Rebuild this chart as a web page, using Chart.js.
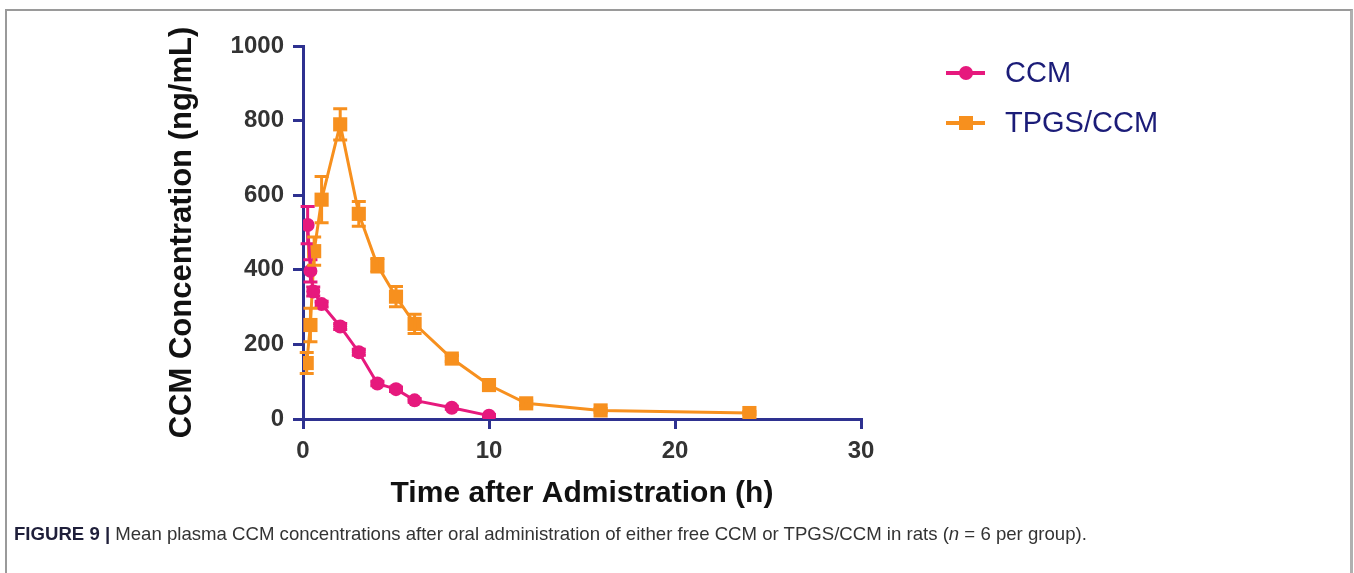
<!DOCTYPE html>
<html>
<head>
<meta charset="utf-8">
<script src="https://cdn.jsdelivr.net/npm/chart.js@4.4.0/dist/chart.umd.min.js"></script>
<style>
  body { margin: 0; background: #fff; font-family: "Liberation Sans", Arial, sans-serif; }
  #wrap { position: relative; width: 1354px; height: 573px; overflow: hidden; }
  #frame { position: absolute; left: 5px; top: 9px; width: 1343px; height: 600px;
           border-left: 2px solid #9a9a9a; border-top: 2px solid #9a9a9a; border-right: 3px solid #b0b0b0; }
  #myChart { position: absolute; left: 0; top: 0; }
  .leg { position: absolute; left: 946px; height: 30px; color: #1b1c78; font-size: 29px; }
  .leg .ln { position: absolute; left: 0; top: 13px; width: 39px; height: 4px; }
  .leg .mk { position: absolute; }
  .leg .tx { position: absolute; left: 59px; top: -2px; white-space: nowrap; }
  #caption { position: absolute; left: 14px; top: 523px; font-size: 18.6px; color: #333; white-space: nowrap; }
  #caption b { color: #1f1f3a; }
</style>
</head>
<body>
<div id="wrap">
  <div id="frame"></div>
  <canvas id="myChart" width="1354" height="573"></canvas>
  <div class="leg" style="top:58px">
    <div class="ln" style="background:#e6197d"></div>
    <div class="mk" style="left:13px;top:8px;width:14px;height:14px;border-radius:50%;background:#e6197d"></div>
    <div class="tx">CCM</div>
  </div>
  <div class="leg" style="top:108px">
    <div class="ln" style="background:#f7901e"></div>
    <div class="mk" style="left:13px;top:8px;width:14px;height:14px;background:#f7901e"></div>
    <div class="tx">TPGS/CCM</div>
  </div>
  <div id="caption"><b>FIGURE 9 |</b> Mean plasma CCM concentrations after oral administration of either free CCM or TPGS/CCM in rats (<i>n</i> = 6 per group).</div>
</div>
<script>
// time points (h), mean concentrations (ng/mL) and SD
const ccmTime = [0.25, 0.4, 0.55, 1, 2, 3, 4, 5, 6, 8, 10];
const ccmMean = [520, 397, 342, 308, 248, 179, 95, 80, 50, 30, 9];
const ccmSd = [50, 30, 12, 8, 8, 8, 6, 6, 5, 4, 3];

const tpgsTime = [0.2, 0.4, 0.6, 1, 2, 3, 4, 5, 6, 8, 10, 12, 16, 24];
const tpgsMean = [150, 252, 450, 588, 790, 550, 412, 328, 255, 162, 91, 42, 23, 16];
const tpgsSd = [28, 45, 38, 62, 42, 33, 18, 27, 26, 8, 8, 6, 5, 4];

const xTicks = [0, 10, 20, 30];
const yTicks = [0, 200, 400, 600, 800, 1000];

const pink = '#e6197d';
const orange = '#f7901e';
const navy = '#2e3190';

function toPoints(xs, ys) {
    return xs.map((x, i) => ({ x: x, y: ys[i] }));
}

const errorBars = {
    id: 'errorBars',
    afterDatasetsDraw(chart) {
        const { ctx, scales: { x, y } } = chart;
        chart.data.datasets.forEach((ds) => {
            if (!ds.sd) return;
            ctx.save();
            ctx.strokeStyle = ds.borderColor;
            ctx.lineWidth = 3;
            ds.data.forEach((p, i) => {
                const px = x.getPixelForValue(p.x);
                const top = y.getPixelForValue(p.y + ds.sd[i]);
                const bot = y.getPixelForValue(p.y - ds.sd[i]);
                ctx.beginPath();
                ctx.moveTo(px, top); ctx.lineTo(px, bot);
                ctx.moveTo(px - 7, top); ctx.lineTo(px + 7, top);
                ctx.moveTo(px - 7, bot); ctx.lineTo(px + 7, bot);
                ctx.stroke();
            });
            ctx.restore();
        });
    }
};

const ctx = document.getElementById('myChart').getContext('2d');
const myChart = new Chart(ctx, {
    type: 'line',
    data: {
        datasets: [{
            label: 'CCM',
            data: toPoints(ccmTime, ccmMean),
            sd: ccmSd,
            borderColor: pink,
            backgroundColor: pink,
            borderWidth: 3,
            pointStyle: 'circle',
            pointRadius: 7,
            pointBorderWidth: 0
        },
        {
            label: 'TPGS/CCM',
            data: toPoints(tpgsTime, tpgsMean),
            sd: tpgsSd,
            borderColor: orange,
            backgroundColor: orange,
            borderWidth: 3,
            pointStyle: 'rect',
            pointRadius: 10,
            pointBorderWidth: 0
        }]
    },
    options: {
        responsive: false,
        animation: false,
        layout: {
            padding: { left: 0, top: 46, right: 493, bottom: 60 }
        },
        plugins: {
            legend: { display: false },
            tooltip: { enabled: false }
        },
        scales: {
            x: {
                type: 'linear',
                min: 0,
                max: 30,
                afterFit: (s) => { s.height = 94; },
                afterBuildTicks: (s) => { s.ticks = xTicks.map(v => ({ value: v })); },
                border: { display: true, color: navy, width: 3 },
                grid: { display: true, drawOnChartArea: false, drawTicks: true, tickLength: 10, color: navy, lineWidth: 3 },
                ticks: { color: '#333', padding: 8, callback: (v) => String(v), font: { family: 'Liberation Sans', size: 24, weight: 'bold' } },
                title: {
                    display: true,
                    text: 'Time after Admistration (h)',
                    color: '#111',
                    padding: { top: 0, bottom: 1 },
                    font: { family: 'Liberation Sans', size: 30, weight: 'bold' }
                }
            },
            y: {
                min: 0,
                max: 1000,
                afterFit: (s) => { s.width = 303; },
                afterBuildTicks: (s) => { s.ticks = yTicks.map(v => ({ value: v })); },
                border: { display: true, color: navy, width: 3 },
                grid: { display: true, drawOnChartArea: false, drawTicks: true, tickLength: 10, color: navy, lineWidth: 3 },
                ticks: { color: '#333', padding: 9, callback: (v) => String(v), font: { family: 'Liberation Sans', size: 24, weight: 'bold' } },
                title: {
                    display: true,
                    text: 'CCM Concentration (ng/mL)',
                    color: '#111',
                    padding: { top: 164, bottom: 0 },
                    font: { family: 'Liberation Sans', size: 31, weight: 'bold' }
                }
            }
        }
    },
    plugins: [errorBars]
});
</script>
</body>
</html>
